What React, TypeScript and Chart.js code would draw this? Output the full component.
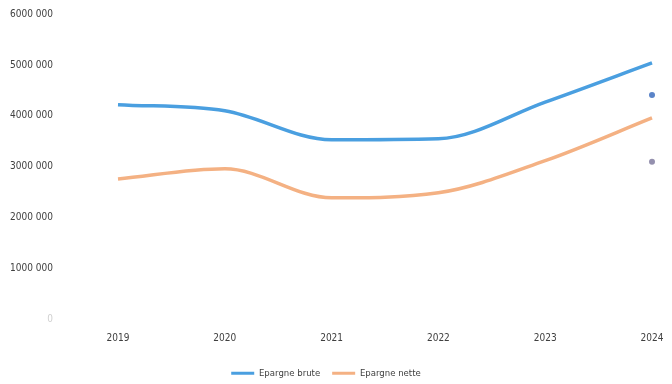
import React, { useEffect, useRef } from "react";
import { Chart, registerables } from "chart.js";

Chart.register(...registerables);

const years = ["2019", "2020", "2021", "2022", "2023", "2024"];
const epargneBrute = [4220000, 4100000, 3530000, 3550000, 4270000, 5040000];
const epargneNette = [2760000, 2960000, 2390000, 2490000, 3120000, 3960000];
const strayBlue = [null, null, null, null, null, 4410000];
const strayGrey = [null, null, null, null, null, 3100000];
const yTickLabels = ["0", "1000 000", "2000 000", "3000 000", "4000 000", "5000 000", "6000 000"];

const FONT = "'Liberation Sans Narrow', 'DejaVu Sans Condensed', 'Liberation Sans', sans-serif";

export default function App() {
  const ref = useRef<HTMLCanvasElement | null>(null);
  useEffect(() => {
    if (!ref.current) return;
    const chart = new Chart(ref.current, {
      type: "line",
      data: {
        labels: years,
        datasets: [
          {
            label: "Epargne brute",
            data: epargneBrute,
            borderColor: "#4A9FE0",
            backgroundColor: "#4A9FE0",
            borderWidth: 3.5,
            pointRadius: 0,
            cubicInterpolationMode: "monotone",
          },
          {
            label: "Epargne nette",
            data: epargneNette,
            borderColor: "#F4B183",
            backgroundColor: "#F4B183",
            borderWidth: 3.5,
            pointRadius: 0,
            cubicInterpolationMode: "monotone",
          },
          {
            label: "_dot1",
            data: strayBlue,
            showLine: false,
            pointRadius: 3,
            pointBackgroundColor: "#5B84C8",
            pointBorderWidth: 0,
            borderColor: "#5B84C8",
          },
          {
            label: "_dot2",
            data: strayGrey,
            showLine: false,
            pointRadius: 3,
            pointBackgroundColor: "#9490AE",
            pointBorderWidth: 0,
            borderColor: "#9490AE",
          },
        ],
      },
      options: {
        animation: false,
        responsive: false,
        layout: { padding: { top: 14, right: 20, left: 0, bottom: -4 } },
        plugins: {
          tooltip: { enabled: false },
          legend: {
            position: "bottom",
            labels: {
              font: { family: FONT, size: 9.5 },
              color: "#404040",
              boxWidth: 23,
              boxHeight: 3,
              padding: 12,
              filter: (item) => !String(item.text).startsWith("_"),
              generateLabels: (chart) =>
                chart.data.datasets.map((ds: any, i: number) => ({
                  text: ds.label,
                  fillStyle: ds.borderColor,
                  strokeStyle: ds.borderColor,
                  lineWidth: 0,
                  hidden: false,
                  datasetIndex: i,
                  fontColor: "#404040",
                })),
            },
          },
        },
        scales: {
          x: {
            offset: false,
            grid: { display: false, drawTicks: false },
            border: { display: false },
            ticks: { font: { family: FONT, size: 10 }, color: "#404040", padding: 13, maxRotation: 0 },
            afterFit: (s: any) => {
              s.height = 37;
              s.paddingRight = 0;
              s.paddingLeft = 0;
            },
          },
          y: {
            min: 0,
            max: 6000000,
            grid: { display: false, drawTicks: false },
            border: { display: false },
            ticks: {
              stepSize: 1000000,
              padding: 65,
              font: { family: FONT, size: 10 },
              color: (ctx: any) => (ctx.tick && ctx.tick.value === 0 ? "#d0d0d0" : "#404040"),
              callback: (v: any) => yTickLabels[Math.round(Number(v) / 1000000)],
            },
            afterFit: (s: any) => {
              s.width = 118;
              s.paddingTop = 0;
              s.paddingBottom = 0;
            },
          },
        },
      },
    });
    return () => chart.destroy();
  }, []);
  return (
    <div style={{ position: "absolute", left: 0, top: 0, width: 672, height: 384, background: "#fff" }}>
      <canvas ref={ref} width={672} height={384} />
    </div>
  );
}
